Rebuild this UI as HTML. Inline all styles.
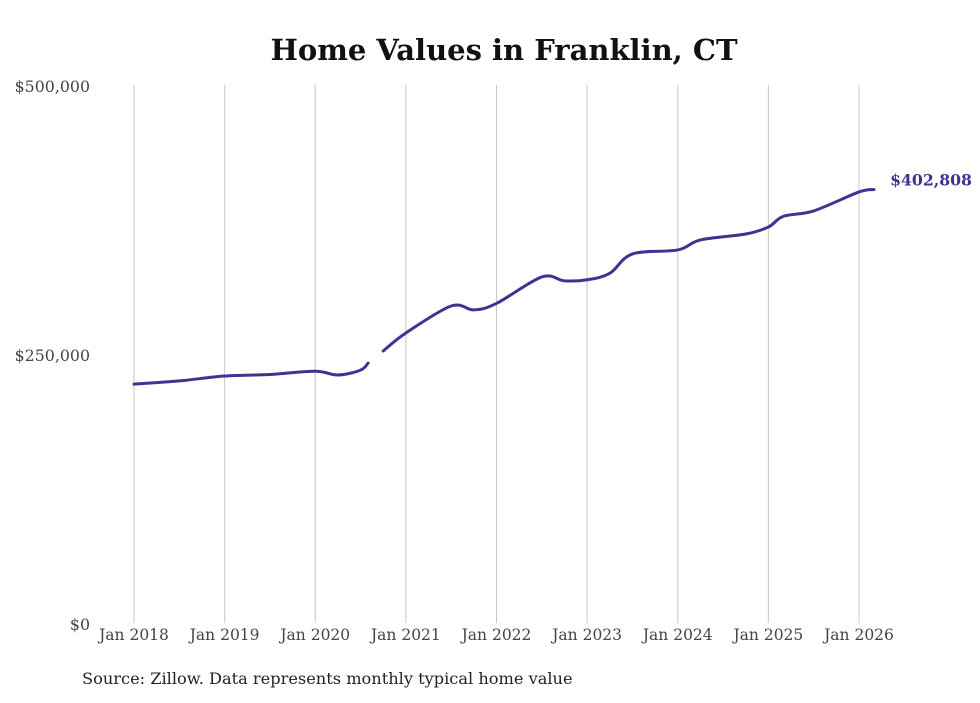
<!DOCTYPE html>
<html><head><meta charset="utf-8"><style>
body{margin:0;background:#fff;font-family:"DejaVu Serif",serif}
</style></head><body>
<svg width="980" height="699" xmlns="http://www.w3.org/2000/svg" font-family="DejaVu Serif, serif">
<text x="504" y="60" text-anchor="middle" font-weight="bold" font-size="29" fill="#111">Home Values in Franklin, CT</text>
<g id="grid"></g><g id="yaxis"></g><g id="xaxis"></g><g id="series"></g>
<text x="82" y="684" font-size="16.2" fill="#222">Source: Zillow. Data represents monthly typical home value</text>
</svg>
<script>
const months=[0,6,12,18,24,27,30,31,33,36,42,45,48,54,57,60,63,66,72,75,81,84,86,90,96,98];
const values=[222000,225000,229500,231000,234000,230500,235000,241600,252800,269500,294600,291000,297000,321600,318000,319000,325000,343000,346700,356000,361500,368000,378000,383000,400600,402808];
const gapIndex=8;
const xTicks=["Jan 2018","Jan 2019","Jan 2020","Jan 2021","Jan 2022","Jan 2023","Jan 2024","Jan 2025","Jan 2026"];
const yTicks=[0,250000,500000];
const yLabels=["$0","$250,000","$500,000"];
const lastLabel="$402,808";
const NS="http://www.w3.org/2000/svg";
const X=m=>134+m*(859-134)/96;
const Y=v=>623-v*(623-85)/500000;
function mk(t,a,p){const e=document.createElementNS(NS,t);for(const k in a)e.setAttribute(k,a[k]);p.appendChild(e);return e;}
const grid=document.getElementById('grid'),ya=document.getElementById('yaxis'),xa=document.getElementById('xaxis'),sr=document.getElementById('series');
xTicks.forEach((t,i)=>{const x=X(i*12);
const l=mk('line',{x1:x,x2:x,y1:85,y2:623,stroke:'#c8c8c8','stroke-width':1},grid);


const tx=mk('text',{x:x,y:640,'text-anchor':'middle','font-size':15.5,fill:'#444'},xa);tx.textContent=t;

});
yTicks.forEach((v,i)=>{const tx=mk('text',{x:90,y:Y(v)+7,'text-anchor':'end','font-size':15.8,fill:'#444'},ya);tx.textContent=yLabels[i];

});
let segs=[[],[]];
months.forEach((m,i)=>{segs[i<gapIndex?0:1].push([X(m),Y(values[i])]);});
function path(p){let d=`M${p[0][0]},${p[0][1]}`;for(let i=0;i<p.length-1;i++){const p0=p[i-1]||p[i],p1=p[i],p2=p[i+1],p3=p[i+2]||p2;
d+=` C${p1[0]+(p2[0]-p0[0])/6},${p1[1]+(p2[1]-p0[1])/6} ${p2[0]-(p3[0]-p1[0])/6},${p2[1]-(p3[1]-p1[1])/6} ${p2[0]},${p2[1]}`;}return d;}
segs.forEach(s=>{const e=mk('path',{d:path(s),fill:'none',stroke:'#3d3392','stroke-width':3,'stroke-linecap':'round'},sr);

});
const lm=months[months.length-1],lv=values[values.length-1];
const lt=mk('text',{x:X(lm)+16,y:Y(lv)-4,'font-size':15.7,'font-weight':'bold',fill:'#3d3392'},sr);lt.textContent=lastLabel;


</script>
</body></html>
